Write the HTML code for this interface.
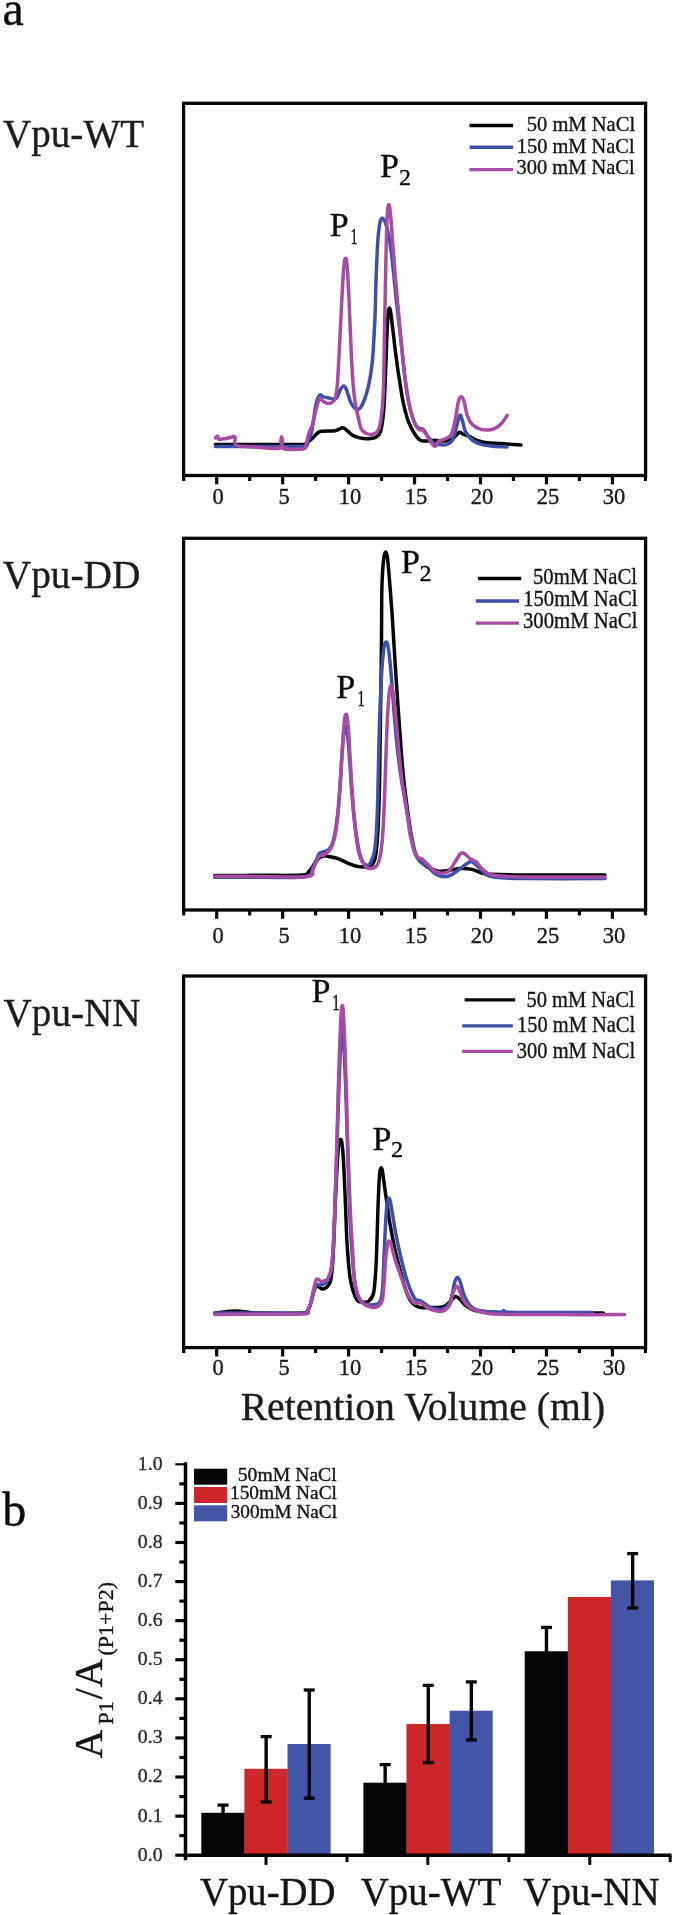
<!DOCTYPE html>
<html><head><meta charset="utf-8"><title>Figure</title>
<style>
html,body{margin:0;padding:0;background:#fff;}
body{width:675px;height:1915px;overflow:hidden;}
svg{display:block;font-family:"Liberation Serif", serif;will-change:transform;}
text{stroke-width:0.35px;stroke-linejoin:round;}
</style></head>
<body>
<svg width="675" height="1915" viewBox="0 0 675 1915">
<rect width="675" height="1915" fill="#fff"/>
<rect x="183.6" y="103.3" width="462.0" height="372.2" fill="none" stroke="#050505" stroke-width="3.3"/>
<line x1="183.72" y1="475.5" x2="183.72" y2="480.95" stroke="#050505" stroke-width="3.2"/>
<line x1="216.70" y1="475.5" x2="216.70" y2="484.35" stroke="#050505" stroke-width="3.2"/>
<line x1="249.67" y1="475.5" x2="249.67" y2="480.95" stroke="#050505" stroke-width="3.2"/>
<line x1="282.65" y1="475.5" x2="282.65" y2="484.35" stroke="#050505" stroke-width="3.2"/>
<line x1="315.62" y1="475.5" x2="315.62" y2="480.95" stroke="#050505" stroke-width="3.2"/>
<line x1="348.60" y1="475.5" x2="348.60" y2="484.35" stroke="#050505" stroke-width="3.2"/>
<line x1="381.57" y1="475.5" x2="381.57" y2="480.95" stroke="#050505" stroke-width="3.2"/>
<line x1="414.55" y1="475.5" x2="414.55" y2="484.35" stroke="#050505" stroke-width="3.2"/>
<line x1="447.52" y1="475.5" x2="447.52" y2="480.95" stroke="#050505" stroke-width="3.2"/>
<line x1="480.50" y1="475.5" x2="480.50" y2="484.35" stroke="#050505" stroke-width="3.2"/>
<line x1="513.47" y1="475.5" x2="513.47" y2="480.95" stroke="#050505" stroke-width="3.2"/>
<line x1="546.45" y1="475.5" x2="546.45" y2="484.35" stroke="#050505" stroke-width="3.2"/>
<line x1="579.42" y1="475.5" x2="579.42" y2="480.95" stroke="#050505" stroke-width="3.2"/>
<line x1="612.40" y1="475.5" x2="612.40" y2="484.35" stroke="#050505" stroke-width="3.2"/>
<line x1="645.38" y1="475.5" x2="645.38" y2="480.95" stroke="#050505" stroke-width="3.2"/>
<text x="218.20" y="504.0" font-size="22.5" text-anchor="middle" fill="#1a1a1a" stroke="#1a1a1a" >0</text>
<text x="284.15" y="504.0" font-size="22.5" text-anchor="middle" fill="#1a1a1a" stroke="#1a1a1a" >5</text>
<text x="350.10" y="504.0" font-size="22.5" text-anchor="middle" fill="#1a1a1a" stroke="#1a1a1a" >10</text>
<text x="416.05" y="504.0" font-size="22.5" text-anchor="middle" fill="#1a1a1a" stroke="#1a1a1a" >15</text>
<text x="482.00" y="504.0" font-size="22.5" text-anchor="middle" fill="#1a1a1a" stroke="#1a1a1a" >20</text>
<text x="547.95" y="504.0" font-size="22.5" text-anchor="middle" fill="#1a1a1a" stroke="#1a1a1a" >25</text>
<text x="613.90" y="504.0" font-size="22.5" text-anchor="middle" fill="#1a1a1a" stroke="#1a1a1a" >30</text>
<text x="3.00" y="147.0" font-size="40.5" fill="#1c1c1c" stroke="#1c1c1c" textLength="141.20" lengthAdjust="spacingAndGlyphs">Vpu-WT</text>
<rect x="183.6" y="538.3" width="462.0" height="371.70000000000005" fill="none" stroke="#050505" stroke-width="3.3"/>
<line x1="183.72" y1="910.0" x2="183.72" y2="915.45" stroke="#050505" stroke-width="3.2"/>
<line x1="216.70" y1="910.0" x2="216.70" y2="918.85" stroke="#050505" stroke-width="3.2"/>
<line x1="249.67" y1="910.0" x2="249.67" y2="915.45" stroke="#050505" stroke-width="3.2"/>
<line x1="282.65" y1="910.0" x2="282.65" y2="918.85" stroke="#050505" stroke-width="3.2"/>
<line x1="315.62" y1="910.0" x2="315.62" y2="915.45" stroke="#050505" stroke-width="3.2"/>
<line x1="348.60" y1="910.0" x2="348.60" y2="918.85" stroke="#050505" stroke-width="3.2"/>
<line x1="381.57" y1="910.0" x2="381.57" y2="915.45" stroke="#050505" stroke-width="3.2"/>
<line x1="414.55" y1="910.0" x2="414.55" y2="918.85" stroke="#050505" stroke-width="3.2"/>
<line x1="447.52" y1="910.0" x2="447.52" y2="915.45" stroke="#050505" stroke-width="3.2"/>
<line x1="480.50" y1="910.0" x2="480.50" y2="918.85" stroke="#050505" stroke-width="3.2"/>
<line x1="513.47" y1="910.0" x2="513.47" y2="915.45" stroke="#050505" stroke-width="3.2"/>
<line x1="546.45" y1="910.0" x2="546.45" y2="918.85" stroke="#050505" stroke-width="3.2"/>
<line x1="579.42" y1="910.0" x2="579.42" y2="915.45" stroke="#050505" stroke-width="3.2"/>
<line x1="612.40" y1="910.0" x2="612.40" y2="918.85" stroke="#050505" stroke-width="3.2"/>
<line x1="645.38" y1="910.0" x2="645.38" y2="915.45" stroke="#050505" stroke-width="3.2"/>
<text x="218.20" y="942.7" font-size="22.5" text-anchor="middle" fill="#1a1a1a" stroke="#1a1a1a" >0</text>
<text x="284.15" y="942.7" font-size="22.5" text-anchor="middle" fill="#1a1a1a" stroke="#1a1a1a" >5</text>
<text x="350.10" y="942.7" font-size="22.5" text-anchor="middle" fill="#1a1a1a" stroke="#1a1a1a" >10</text>
<text x="416.05" y="942.7" font-size="22.5" text-anchor="middle" fill="#1a1a1a" stroke="#1a1a1a" >15</text>
<text x="482.00" y="942.7" font-size="22.5" text-anchor="middle" fill="#1a1a1a" stroke="#1a1a1a" >20</text>
<text x="547.95" y="942.7" font-size="22.5" text-anchor="middle" fill="#1a1a1a" stroke="#1a1a1a" >25</text>
<text x="613.90" y="942.7" font-size="22.5" text-anchor="middle" fill="#1a1a1a" stroke="#1a1a1a" >30</text>
<text x="2.80" y="587.7" font-size="40.5" fill="#1c1c1c" stroke="#1c1c1c" textLength="137.58" lengthAdjust="spacingAndGlyphs">Vpu-DD</text>
<rect x="183.6" y="976.0" width="462.0" height="371.5999999999999" fill="none" stroke="#050505" stroke-width="3.3"/>
<line x1="183.72" y1="1347.6" x2="183.72" y2="1353.05" stroke="#050505" stroke-width="3.2"/>
<line x1="216.70" y1="1347.6" x2="216.70" y2="1356.45" stroke="#050505" stroke-width="3.2"/>
<line x1="249.67" y1="1347.6" x2="249.67" y2="1353.05" stroke="#050505" stroke-width="3.2"/>
<line x1="282.65" y1="1347.6" x2="282.65" y2="1356.45" stroke="#050505" stroke-width="3.2"/>
<line x1="315.62" y1="1347.6" x2="315.62" y2="1353.05" stroke="#050505" stroke-width="3.2"/>
<line x1="348.60" y1="1347.6" x2="348.60" y2="1356.45" stroke="#050505" stroke-width="3.2"/>
<line x1="381.57" y1="1347.6" x2="381.57" y2="1353.05" stroke="#050505" stroke-width="3.2"/>
<line x1="414.55" y1="1347.6" x2="414.55" y2="1356.45" stroke="#050505" stroke-width="3.2"/>
<line x1="447.52" y1="1347.6" x2="447.52" y2="1353.05" stroke="#050505" stroke-width="3.2"/>
<line x1="480.50" y1="1347.6" x2="480.50" y2="1356.45" stroke="#050505" stroke-width="3.2"/>
<line x1="513.47" y1="1347.6" x2="513.47" y2="1353.05" stroke="#050505" stroke-width="3.2"/>
<line x1="546.45" y1="1347.6" x2="546.45" y2="1356.45" stroke="#050505" stroke-width="3.2"/>
<line x1="579.42" y1="1347.6" x2="579.42" y2="1353.05" stroke="#050505" stroke-width="3.2"/>
<line x1="612.40" y1="1347.6" x2="612.40" y2="1356.45" stroke="#050505" stroke-width="3.2"/>
<line x1="645.38" y1="1347.6" x2="645.38" y2="1353.05" stroke="#050505" stroke-width="3.2"/>
<text x="218.20" y="1374.5" font-size="22.5" text-anchor="middle" fill="#1a1a1a" stroke="#1a1a1a" >0</text>
<text x="284.15" y="1374.5" font-size="22.5" text-anchor="middle" fill="#1a1a1a" stroke="#1a1a1a" >5</text>
<text x="350.10" y="1374.5" font-size="22.5" text-anchor="middle" fill="#1a1a1a" stroke="#1a1a1a" >10</text>
<text x="416.05" y="1374.5" font-size="22.5" text-anchor="middle" fill="#1a1a1a" stroke="#1a1a1a" >15</text>
<text x="482.00" y="1374.5" font-size="22.5" text-anchor="middle" fill="#1a1a1a" stroke="#1a1a1a" >20</text>
<text x="547.95" y="1374.5" font-size="22.5" text-anchor="middle" fill="#1a1a1a" stroke="#1a1a1a" >25</text>
<text x="613.90" y="1374.5" font-size="22.5" text-anchor="middle" fill="#1a1a1a" stroke="#1a1a1a" >30</text>
<text x="3.60" y="1025.9" font-size="40.5" fill="#1c1c1c" stroke="#1c1c1c" textLength="137.01" lengthAdjust="spacingAndGlyphs">Vpu-NN</text>
<line x1="469.5" y1="125.5" x2="513.1" y2="125.5" stroke="#050505" stroke-width="3.4"/>
<line x1="469.5" y1="147.3" x2="513.1" y2="147.3" stroke="#3d4fa8" stroke-width="3.4"/>
<line x1="469.5" y1="169.6" x2="513.1" y2="169.6" stroke="#a64ca2" stroke-width="3.4"/>
<text x="526.72" y="131.3" font-size="21" fill="#141414" stroke="#141414" textLength="108.40" lengthAdjust="spacingAndGlyphs">50 mM NaCl</text>
<text x="516.76" y="152.8" font-size="21" fill="#141414" stroke="#141414" textLength="117.88" lengthAdjust="spacingAndGlyphs">150 mM NaCl</text>
<text x="516.53" y="174.3" font-size="21" fill="#141414" stroke="#141414" textLength="118.11" lengthAdjust="spacingAndGlyphs">300 mM NaCl</text>
<line x1="477.9" y1="578.5" x2="521.3" y2="578.5" stroke="#050505" stroke-width="3.4"/>
<line x1="475.8" y1="601.0" x2="519.0" y2="601.0" stroke="#3d4fa8" stroke-width="3.4"/>
<line x1="475.8" y1="623.1" x2="519.0" y2="623.1" stroke="#a64ca2" stroke-width="3.4"/>
<text x="533.00" y="584.3" font-size="23" fill="#141414" stroke="#141414" textLength="103.98" lengthAdjust="spacingAndGlyphs">50mM NaCl</text>
<text x="523.20" y="606.4" font-size="23" fill="#141414" stroke="#141414" textLength="114.22" lengthAdjust="spacingAndGlyphs">150mM NaCl</text>
<text x="523.00" y="628.3" font-size="23" fill="#141414" stroke="#141414" textLength="114.43" lengthAdjust="spacingAndGlyphs">300mM NaCl</text>
<line x1="464.6" y1="999.9" x2="515.2" y2="999.9" stroke="#050505" stroke-width="3.4"/>
<line x1="462.2" y1="1025.9" x2="512.8" y2="1025.9" stroke="#3d4fa8" stroke-width="3.4"/>
<line x1="462.2" y1="1051.4" x2="512.8" y2="1051.4" stroke="#a64ca2" stroke-width="3.4"/>
<text x="526.42" y="1006.5" font-size="23.2" fill="#141414" stroke="#141414" textLength="108.23" lengthAdjust="spacingAndGlyphs">50 mM NaCl</text>
<text x="516.94" y="1032.1" font-size="23.2" fill="#141414" stroke="#141414" textLength="118.23" lengthAdjust="spacingAndGlyphs">150 mM NaCl</text>
<text x="516.82" y="1057.8" font-size="23.2" fill="#141414" stroke="#141414" textLength="118.35" lengthAdjust="spacingAndGlyphs">300 mM NaCl</text>
<text x="329.70" y="235.5" font-size="34" fill="#0d0d0d" stroke="#0d0d0d">P</text>
<text x="350.62" y="243.5" font-size="22.5" fill="#0d0d0d" stroke="#0d0d0d" textLength="7.17" lengthAdjust="spacingAndGlyphs">1</text>
<text x="380.10" y="177.0" font-size="34" fill="#0d0d0d" stroke="#0d0d0d">P</text>
<text x="398.93" y="184.8" font-size="22.5" fill="#0d0d0d" stroke="#0d0d0d" textLength="12.00" lengthAdjust="spacingAndGlyphs">2</text>
<text x="336.20" y="698.3" font-size="34" fill="#0d0d0d" stroke="#0d0d0d">P</text>
<text x="357.40" y="706.1" font-size="22.5" fill="#0d0d0d" stroke="#0d0d0d" textLength="7.31" lengthAdjust="spacingAndGlyphs">1</text>
<text x="401.00" y="572.8" font-size="34" fill="#0d0d0d" stroke="#0d0d0d">P</text>
<text x="419.53" y="580.9" font-size="22.5" fill="#0d0d0d" stroke="#0d0d0d" textLength="12.00" lengthAdjust="spacingAndGlyphs">2</text>
<text x="311.40" y="1001.8" font-size="34" fill="#0d0d0d" stroke="#0d0d0d">P</text>
<text x="332.10" y="1009.8" font-size="22.5" fill="#0d0d0d" stroke="#0d0d0d" textLength="7.88" lengthAdjust="spacingAndGlyphs">1</text>
<text x="372.50" y="1149.6" font-size="34" fill="#0d0d0d" stroke="#0d0d0d">P</text>
<text x="390.92" y="1157.0" font-size="22.5" fill="#0d0d0d" stroke="#0d0d0d" textLength="12.12" lengthAdjust="spacingAndGlyphs">2</text>
<text x="2.60" y="25.3" font-size="48" fill="#0a0a0a" stroke="#0a0a0a">a</text>
<text x="2.20" y="1526.0" font-size="48" fill="#0a0a0a" stroke="#0a0a0a">b</text>
<text x="240.63" y="1419.5" font-size="41" fill="#1c1c1c" stroke="#1c1c1c" textLength="364.60" lengthAdjust="spacingAndGlyphs">Retention Volume (ml)</text>
<path d="M215.40,444.40 C222.83,444.40 245.43,444.40 260.00,444.40 C274.57,444.40 295.05,444.60 302.80,444.40 C310.55,444.20 305.07,444.05 306.50,443.20 C307.93,442.35 309.40,441.12 311.40,439.30 C313.40,437.48 316.52,433.65 318.50,432.30 C320.48,430.95 320.93,431.42 323.30,431.20 C325.67,430.98 330.35,431.20 332.70,431.00 C335.05,430.80 335.75,430.53 337.40,430.00 C339.05,429.47 341.12,427.83 342.60,427.80 C344.08,427.77 344.70,428.60 346.30,429.80 C347.90,431.00 349.98,433.65 352.20,435.00 C354.42,436.35 356.88,437.28 359.60,437.90 C362.32,438.52 365.78,438.82 368.50,438.70 C371.22,438.58 373.92,438.32 375.90,437.20 C377.88,436.08 379.17,435.70 380.40,432.00 C381.63,428.30 382.60,421.17 383.30,415.00 C384.00,408.83 384.22,402.17 384.60,395.00 C384.98,387.83 385.27,380.33 385.60,372.00 C385.93,363.67 386.23,354.00 386.60,345.00 C386.97,336.00 387.40,324.03 387.80,318.00 C388.20,311.97 388.57,310.05 389.00,308.80 C389.43,307.55 389.85,307.80 390.40,310.50 C390.95,313.20 391.53,318.75 392.30,325.00 C393.07,331.25 394.12,340.83 395.00,348.00 C395.88,355.17 396.80,362.33 397.60,368.00 C398.40,373.67 398.97,376.73 399.80,382.00 C400.63,387.27 401.65,394.60 402.60,399.60 C403.55,404.60 404.52,408.28 405.50,412.00 C406.48,415.72 407.02,418.32 408.50,421.90 C409.98,425.48 412.42,430.43 414.40,433.50 C416.38,436.57 418.38,439.05 420.40,440.30 C422.42,441.55 424.12,441.00 426.50,441.00 C428.88,441.00 431.72,440.30 434.70,440.30 C437.68,440.30 441.42,441.27 444.40,441.00 C447.38,440.73 450.15,440.13 452.60,438.70 C455.05,437.27 457.47,433.22 459.10,432.40 C460.73,431.58 460.77,433.17 462.40,433.80 C464.03,434.43 466.47,435.12 468.90,436.20 C471.33,437.28 474.28,439.25 477.00,440.30 C479.72,441.35 481.12,441.95 485.20,442.50 C489.28,443.05 495.53,443.18 501.50,443.60 C507.47,444.02 517.75,444.77 521.00,445.00" fill="none" stroke="#050505" stroke-width="3.5" stroke-linejoin="round" stroke-linecap="round"/>
<path d="M215.40,446.40 C222.83,446.40 245.48,446.40 260.00,446.40 C274.52,446.40 294.72,446.88 302.50,446.40 C310.28,445.92 305.22,445.82 306.70,443.50 C308.18,441.18 309.83,439.08 311.40,432.50 C312.97,425.92 314.72,410.22 316.10,404.00 C317.48,397.78 318.50,396.40 319.70,395.20 C320.90,394.00 321.92,396.37 323.30,396.80 C324.68,397.23 325.90,397.50 328.00,397.80 C330.10,398.10 333.83,399.98 335.90,398.60 C337.97,397.22 339.12,391.60 340.40,389.50 C341.68,387.40 342.62,386.03 343.60,386.00 C344.58,385.97 345.12,386.57 346.30,389.30 C347.48,392.03 349.33,399.28 350.70,402.40 C352.07,405.52 353.27,406.83 354.50,408.00 C355.73,409.17 357.05,409.53 358.10,409.40 C359.15,409.27 359.80,408.68 360.80,407.20 C361.80,405.72 362.93,403.53 364.10,400.50 C365.27,397.47 366.70,393.42 367.80,389.00 C368.90,384.58 369.90,379.00 370.70,374.00 C371.50,369.00 372.12,363.93 372.60,359.00 C373.08,354.07 373.30,349.30 373.60,344.40 C373.90,339.50 374.15,334.53 374.40,329.60 C374.65,324.67 374.92,319.73 375.10,314.80 C375.28,309.87 375.37,305.13 375.50,300.00 C375.63,294.87 375.72,289.67 375.90,284.00 C376.08,278.33 376.35,272.00 376.60,266.00 C376.85,260.00 377.07,253.67 377.40,248.00 C377.73,242.33 378.13,236.42 378.60,232.00 C379.07,227.58 379.63,223.83 380.20,221.50 C380.77,219.17 381.37,218.28 382.00,218.00 C382.63,217.72 383.25,218.47 384.00,219.80 C384.75,221.13 385.53,222.30 386.50,226.00 C387.47,229.70 388.85,236.33 389.80,242.00 C390.75,247.67 391.45,253.67 392.20,260.00 C392.95,266.33 393.62,273.33 394.30,280.00 C394.98,286.67 395.48,292.50 396.30,300.00 C397.12,307.50 398.22,316.33 399.20,325.00 C400.18,333.67 401.23,343.17 402.20,352.00 C403.17,360.83 404.03,370.33 405.00,378.00 C405.97,385.67 406.92,392.00 408.00,398.00 C409.08,404.00 410.25,409.58 411.50,414.00 C412.75,418.42 414.17,422.08 415.50,424.50 C416.83,426.92 418.20,427.67 419.50,428.50 C420.80,429.33 421.87,428.17 423.30,429.50 C424.73,430.83 426.48,434.28 428.10,436.50 C429.72,438.72 431.37,441.45 433.00,442.80 C434.63,444.15 435.72,444.30 437.90,444.60 C440.08,444.90 443.65,445.37 446.10,444.60 C448.55,443.83 450.83,443.10 452.60,440.00 C454.37,436.90 455.48,430.13 456.70,426.00 C457.92,421.87 458.95,416.08 459.90,415.20 C460.85,414.32 461.45,417.93 462.40,420.70 C463.35,423.47 463.98,428.58 465.60,431.80 C467.22,435.02 469.38,437.87 472.10,440.00 C474.82,442.13 478.37,443.57 481.90,444.60 C485.43,445.63 489.12,445.80 493.30,446.20 C497.48,446.60 504.72,446.87 507.00,447.00" fill="none" stroke="#3d4fa8" stroke-width="3.5" stroke-linejoin="round" stroke-linecap="round"/>
<path d="M215.60,438.00 C215.92,437.67 216.93,435.75 217.50,436.00 C218.07,436.25 218.25,439.00 219.00,439.50 C219.75,440.00 220.83,439.17 222.00,439.00 C223.17,438.83 224.83,438.70 226.00,438.50 C227.17,438.30 228.00,438.05 229.00,437.80 C230.00,437.55 230.98,437.08 232.00,437.00 C233.02,436.92 234.40,435.92 235.10,437.30 C235.80,438.68 233.07,443.70 236.20,445.30 C239.33,446.90 246.68,446.40 253.90,446.90 C261.12,447.40 275.02,449.28 279.50,448.30 C283.98,447.32 280.45,442.92 280.80,441.00 C281.15,439.08 281.33,436.80 281.60,436.80 C281.87,436.80 282.08,439.05 282.40,441.00 C282.72,442.95 280.10,447.17 283.50,448.50 C286.90,449.83 299.08,449.42 302.80,449.00 C306.52,448.58 304.98,447.92 305.80,446.00 C306.62,444.08 306.92,440.33 307.70,437.50 C308.48,434.67 309.68,431.17 310.50,429.00 C311.32,426.83 311.67,427.83 312.60,424.50 C313.53,421.17 314.92,413.28 316.10,409.00 C317.28,404.72 318.50,400.05 319.70,398.80 C320.90,397.55 321.92,400.72 323.30,401.50 C324.68,402.28 326.43,403.42 328.00,403.50 C329.57,403.58 331.45,403.08 332.70,402.00 C333.95,400.92 334.73,399.83 335.50,397.00 C336.27,394.17 336.75,391.17 337.30,385.00 C337.85,378.83 338.30,369.17 338.80,360.00 C339.30,350.83 339.80,340.00 340.30,330.00 C340.80,320.00 341.32,309.17 341.80,300.00 C342.28,290.83 342.75,281.50 343.20,275.00 C343.65,268.50 344.12,263.80 344.50,261.00 C344.88,258.20 345.15,258.20 345.50,258.20 C345.85,258.20 346.22,258.20 346.60,261.00 C346.98,263.80 347.40,268.50 347.80,275.00 C348.20,281.50 348.58,290.83 349.00,300.00 C349.42,309.17 349.87,320.00 350.30,330.00 C350.73,340.00 351.12,350.83 351.60,360.00 C352.08,369.17 352.60,377.83 353.20,385.00 C353.80,392.17 354.48,398.17 355.20,403.00 C355.92,407.83 356.52,409.75 357.50,414.00 C358.48,418.25 359.75,425.33 361.10,428.50 C362.45,431.67 363.87,432.00 365.60,433.00 C367.33,434.00 369.53,434.75 371.50,434.50 C373.47,434.25 375.88,433.58 377.40,431.50 C378.92,429.42 379.73,426.58 380.60,422.00 C381.47,417.42 382.08,411.00 382.60,404.00 C383.12,397.00 383.40,390.67 383.70,380.00 C384.00,369.33 384.15,354.17 384.40,340.00 C384.65,325.83 384.93,309.17 385.20,295.00 C385.47,280.83 385.73,266.67 386.00,255.00 C386.27,243.33 386.53,232.50 386.80,225.00 C387.07,217.50 387.32,213.33 387.60,210.00 C387.88,206.67 388.17,205.50 388.50,205.00 C388.83,204.50 389.18,204.50 389.60,207.00 C390.02,209.50 390.50,214.17 391.00,220.00 C391.50,225.83 392.03,234.50 392.60,242.00 C393.17,249.50 393.78,257.33 394.40,265.00 C395.02,272.67 395.62,280.17 396.30,288.00 C396.98,295.83 397.72,303.33 398.50,312.00 C399.28,320.67 400.17,331.17 401.00,340.00 C401.83,348.83 402.67,357.33 403.50,365.00 C404.33,372.67 405.08,379.50 406.00,386.00 C406.92,392.50 407.92,398.83 409.00,404.00 C410.08,409.17 411.33,413.33 412.50,417.00 C413.67,420.67 414.83,423.87 416.00,426.00 C417.17,428.13 418.40,429.13 419.50,429.80 C420.60,430.47 421.47,429.22 422.60,430.00 C423.73,430.78 425.10,432.78 426.30,434.50 C427.50,436.22 428.60,438.47 429.80,440.30 C431.00,442.13 432.50,444.55 433.50,445.50 C434.50,446.45 434.97,446.67 435.80,446.00 C436.63,445.33 437.07,442.63 438.50,441.50 C439.93,440.37 442.32,440.28 444.40,439.20 C446.48,438.12 449.23,438.03 451.00,435.00 C452.77,431.97 453.78,426.50 455.00,421.00 C456.22,415.50 457.27,406.03 458.30,402.00 C459.33,397.97 460.25,396.93 461.20,396.80 C462.15,396.67 462.98,398.08 464.00,401.20 C465.02,404.32 465.95,411.65 467.30,415.50 C468.65,419.35 469.93,422.02 472.10,424.30 C474.27,426.58 477.58,428.25 480.30,429.20 C483.02,430.15 485.95,430.13 488.40,430.00 C490.85,429.87 492.82,429.48 495.00,428.40 C497.18,427.32 499.47,425.65 501.50,423.50 C503.53,421.35 506.25,416.83 507.20,415.50" fill="none" stroke="#a64ca2" stroke-width="3.5" stroke-linejoin="round" stroke-linecap="round"/>
<path d="M214.60,875.50 C222.17,875.47 245.50,875.38 260.00,875.30 C274.50,875.22 293.38,875.72 301.60,875.00 C309.82,874.28 306.73,873.50 309.30,871.00 C311.87,868.50 314.75,862.50 317.00,860.00 C319.25,857.50 320.55,856.53 322.80,856.00 C325.05,855.47 327.93,856.37 330.50,856.80 C333.07,857.23 335.32,857.53 338.20,858.60 C341.08,859.67 344.92,861.97 347.80,863.20 C350.68,864.43 352.93,865.37 355.50,866.00 C358.07,866.63 360.63,867.03 363.20,867.00 C365.77,866.97 368.90,867.30 370.90,865.80 C372.90,864.30 374.13,862.30 375.20,858.00 C376.27,853.70 376.73,847.17 377.30,840.00 C377.87,832.83 378.25,823.33 378.60,815.00 C378.95,806.67 379.17,800.83 379.40,790.00 C379.63,779.17 379.83,761.67 380.00,750.00 C380.17,738.33 380.23,731.67 380.40,720.00 C380.57,708.33 380.82,693.33 381.00,680.00 C381.18,666.67 381.38,653.33 381.50,640.00 C381.62,626.67 381.60,609.75 381.70,600.00 C381.80,590.25 381.87,587.42 382.10,581.50 C382.33,575.58 382.75,568.83 383.10,564.50 C383.45,560.17 383.77,557.58 384.20,555.50 C384.63,553.42 385.22,552.00 385.70,552.00 C386.18,552.00 386.70,553.50 387.10,555.50 C387.50,557.50 387.68,559.67 388.10,564.00 C388.52,568.33 389.12,575.62 389.60,581.50 C390.08,587.38 390.55,593.38 391.00,599.30 C391.45,605.22 391.80,609.38 392.30,617.00 C392.80,624.62 393.35,634.50 394.00,645.00 C394.65,655.50 395.37,667.50 396.20,680.00 C397.03,692.50 398.12,707.50 399.00,720.00 C399.88,732.50 400.62,744.17 401.50,755.00 C402.38,765.83 403.30,775.83 404.30,785.00 C405.30,794.17 406.38,801.83 407.50,810.00 C408.62,818.17 409.67,826.75 411.00,834.00 C412.33,841.25 413.83,848.92 415.50,853.50 C417.17,858.08 418.95,859.22 421.00,861.50 C423.05,863.78 425.07,865.62 427.80,867.20 C430.53,868.78 433.88,870.48 437.40,871.00 C440.92,871.52 445.05,870.70 448.90,870.30 C452.75,869.90 456.63,868.75 460.50,868.60 C464.37,868.45 468.57,868.67 472.10,869.40 C475.63,870.13 478.52,872.20 481.70,873.00 C484.88,873.80 483.98,873.87 491.20,874.20 C498.42,874.53 506.05,874.87 525.00,875.00 C543.95,875.13 591.58,875.00 604.90,875.00" fill="none" stroke="#050505" stroke-width="3.5" stroke-linejoin="round" stroke-linecap="round"/>
<path d="M214.60,877.30 C222.17,877.28 244.87,877.28 260.00,877.20 C275.13,877.12 296.55,878.42 305.40,876.80 C314.25,875.18 310.85,871.30 313.10,867.50 C315.35,863.70 317.28,856.58 318.90,854.00 C320.52,851.42 321.20,852.70 322.80,852.00 C324.40,851.30 326.88,851.30 328.50,849.80 C330.12,848.30 331.33,846.30 332.50,843.00 C333.67,839.70 334.58,835.17 335.50,830.00 C336.42,824.83 337.28,818.67 338.00,812.00 C338.72,805.33 339.22,798.33 339.80,790.00 C340.38,781.67 340.92,770.67 341.50,762.00 C342.08,753.33 342.72,743.83 343.30,738.00 C343.88,732.17 344.47,728.67 345.00,727.00 C345.53,725.33 345.97,725.50 346.50,728.00 C347.03,730.50 347.62,735.83 348.20,742.00 C348.78,748.17 349.40,756.67 350.00,765.00 C350.60,773.33 351.13,783.67 351.80,792.00 C352.47,800.33 353.22,807.67 354.00,815.00 C354.78,822.33 355.60,829.75 356.50,836.00 C357.40,842.25 358.43,848.33 359.40,852.50 C360.37,856.67 361.35,859.00 362.30,861.00 C363.25,863.00 364.07,863.83 365.10,864.50 C366.13,865.17 367.45,865.58 368.50,865.00 C369.55,864.42 370.40,863.33 371.40,861.00 C372.40,858.67 373.65,856.17 374.50,851.00 C375.35,845.83 375.97,838.50 376.50,830.00 C377.03,821.50 377.35,811.67 377.70,800.00 C378.05,788.33 378.28,773.33 378.60,760.00 C378.92,746.67 379.20,732.50 379.60,720.00 C380.00,707.50 380.50,695.00 381.00,685.00 C381.50,675.00 382.05,666.50 382.60,660.00 C383.15,653.50 383.70,649.00 384.30,646.00 C384.90,643.00 385.58,642.00 386.20,642.00 C386.82,642.00 387.37,642.67 388.00,646.00 C388.63,649.33 389.33,655.50 390.00,662.00 C390.67,668.50 391.28,676.17 392.00,685.00 C392.72,693.83 393.47,705.00 394.30,715.00 C395.13,725.00 396.05,735.83 397.00,745.00 C397.95,754.17 398.88,762.00 400.00,770.00 C401.12,778.00 402.45,785.50 403.70,793.00 C404.95,800.50 406.20,807.50 407.50,815.00 C408.80,822.50 410.22,831.58 411.50,838.00 C412.78,844.42 413.78,849.58 415.20,853.50 C416.62,857.42 417.90,859.33 420.00,861.50 C422.10,863.67 425.22,864.42 427.80,866.50 C430.38,868.58 432.62,872.28 435.50,874.00 C438.38,875.72 442.22,876.80 445.10,876.80 C447.98,876.80 450.23,875.40 452.80,874.00 C455.37,872.60 457.93,870.27 460.50,868.40 C463.07,866.53 466.27,863.90 468.20,862.80 C470.13,861.70 470.48,861.18 472.10,861.80 C473.72,862.42 475.65,864.43 477.90,866.50 C480.15,868.57 482.72,872.42 485.60,874.20 C488.48,875.98 488.63,876.47 495.20,877.20 C501.77,877.93 506.72,878.37 525.00,878.60 C543.28,878.83 591.58,878.60 604.90,878.60" fill="none" stroke="#3d4fa8" stroke-width="3.5" stroke-linejoin="round" stroke-linecap="round"/>
<path d="M214.60,876.30 C222.17,876.32 244.55,876.37 260.00,876.40 C275.45,876.43 298.45,877.73 307.30,876.50 C316.15,875.27 311.17,872.28 313.10,869.00 C315.03,865.72 316.97,859.22 318.90,856.80 C320.83,854.38 322.77,855.80 324.70,854.50 C326.63,853.20 328.95,851.42 330.50,849.00 C332.05,846.58 332.98,843.83 334.00,840.00 C335.02,836.17 335.83,831.83 336.60,826.00 C337.37,820.17 337.98,812.33 338.60,805.00 C339.22,797.67 339.73,790.33 340.30,782.00 C340.87,773.67 341.45,763.67 342.00,755.00 C342.55,746.33 343.10,736.42 343.60,730.00 C344.10,723.58 344.60,719.13 345.00,716.50 C345.40,713.87 345.65,714.20 346.00,714.20 C346.35,714.20 346.68,713.87 347.10,716.50 C347.52,719.13 348.02,723.58 348.50,730.00 C348.98,736.42 349.48,746.33 350.00,755.00 C350.52,763.67 351.05,773.17 351.60,782.00 C352.15,790.83 352.65,799.67 353.30,808.00 C353.95,816.33 354.48,824.17 355.50,832.00 C356.52,839.83 357.80,849.37 359.40,855.00 C361.00,860.63 363.33,863.55 365.10,865.80 C366.87,868.05 368.07,868.50 370.00,868.50 C371.93,868.50 375.03,867.72 376.70,865.80 C378.37,863.88 379.07,861.30 380.00,857.00 C380.93,852.70 381.67,847.00 382.30,840.00 C382.93,833.00 383.38,823.33 383.80,815.00 C384.22,806.67 384.47,799.17 384.80,790.00 C385.13,780.83 385.45,770.00 385.80,760.00 C386.15,750.00 386.50,739.17 386.90,730.00 C387.30,720.83 387.75,711.67 388.20,705.00 C388.65,698.33 389.12,693.30 389.60,690.00 C390.08,686.70 390.60,685.20 391.10,685.20 C391.60,685.20 392.07,687.03 392.60,690.00 C393.13,692.97 393.70,697.67 394.30,703.00 C394.90,708.33 395.53,715.00 396.20,722.00 C396.87,729.00 397.58,737.33 398.30,745.00 C399.02,752.67 399.77,761.33 400.50,768.00 C401.23,774.67 401.68,778.17 402.70,785.00 C403.72,791.83 405.32,800.50 406.60,809.00 C407.88,817.50 408.80,828.23 410.40,836.00 C412.00,843.77 414.27,851.77 416.20,855.60 C418.13,859.43 420.07,857.52 422.00,859.00 C423.93,860.48 425.88,862.63 427.80,864.50 C429.72,866.37 431.27,868.75 433.50,870.20 C435.73,871.65 438.63,873.07 441.20,873.20 C443.77,873.33 446.65,872.77 448.90,871.00 C451.15,869.23 452.77,865.50 454.70,862.60 C456.63,859.70 458.88,855.10 460.50,853.60 C462.12,852.10 462.80,852.73 464.40,853.60 C466.00,854.47 468.18,857.47 470.10,858.80 C472.02,860.13 473.97,860.03 475.90,861.60 C477.83,863.17 479.45,866.13 481.70,868.20 C483.95,870.27 486.18,872.70 489.40,874.00 C492.62,875.30 495.07,875.50 501.00,876.00 C506.93,876.50 507.68,876.83 525.00,877.00 C542.32,877.17 591.58,877.00 604.90,877.00" fill="none" stroke="#a64ca2" stroke-width="3.5" stroke-linejoin="round" stroke-linecap="round"/>
<path d="M214.80,1313.30 C216.00,1313.12 219.47,1312.53 222.00,1312.20 C224.53,1311.87 227.00,1311.47 230.00,1311.30 C233.00,1311.13 237.00,1311.03 240.00,1311.20 C243.00,1311.37 245.00,1312.00 248.00,1312.30 C251.00,1312.60 248.75,1312.88 258.00,1313.00 C267.25,1313.12 295.22,1313.42 303.50,1313.00 C311.78,1312.58 306.62,1311.75 307.70,1310.50 C308.78,1309.25 309.30,1307.42 310.00,1305.50 C310.70,1303.58 311.27,1301.42 311.90,1299.00 C312.53,1296.58 313.02,1293.17 313.80,1291.00 C314.58,1288.83 315.65,1286.58 316.60,1286.00 C317.55,1285.42 318.52,1287.00 319.50,1287.50 C320.48,1288.00 321.25,1289.08 322.50,1289.00 C323.75,1288.92 325.67,1288.33 327.00,1287.00 C328.33,1285.67 329.60,1284.50 330.50,1281.00 C331.40,1277.50 331.85,1272.50 332.40,1266.00 C332.95,1259.50 333.33,1252.17 333.80,1242.00 C334.27,1231.83 334.73,1216.17 335.20,1205.00 C335.67,1193.83 336.13,1183.83 336.60,1175.00 C337.07,1166.17 337.55,1157.67 338.00,1152.00 C338.45,1146.33 338.90,1143.08 339.30,1141.00 C339.70,1138.92 340.02,1139.50 340.40,1139.50 C340.78,1139.50 341.18,1138.92 341.60,1141.00 C342.02,1143.08 342.47,1146.33 342.90,1152.00 C343.33,1157.67 343.77,1166.17 344.20,1175.00 C344.63,1183.83 345.03,1193.83 345.50,1205.00 C345.97,1216.17 346.22,1229.75 347.00,1242.00 C347.78,1254.25 348.63,1269.00 350.20,1278.50 C351.77,1288.00 354.33,1295.08 356.40,1299.00 C358.47,1302.92 360.53,1301.67 362.60,1302.00 C364.67,1302.33 366.97,1302.50 368.80,1301.00 C370.63,1299.50 372.43,1298.17 373.60,1293.00 C374.77,1287.83 375.23,1278.83 375.80,1270.00 C376.37,1261.17 376.65,1250.00 377.00,1240.00 C377.35,1230.00 377.58,1219.17 377.90,1210.00 C378.22,1200.83 378.55,1191.50 378.90,1185.00 C379.25,1178.50 379.65,1173.87 380.00,1171.00 C380.35,1168.13 380.63,1167.97 381.00,1167.80 C381.37,1167.63 381.75,1167.97 382.20,1170.00 C382.65,1172.03 383.18,1176.33 383.70,1180.00 C384.22,1183.67 384.75,1188.17 385.30,1192.00 C385.85,1195.83 386.38,1198.67 387.00,1203.00 C387.62,1207.33 388.25,1213.17 389.00,1218.00 C389.75,1222.83 390.50,1226.67 391.50,1232.00 C392.50,1237.33 393.83,1244.67 395.00,1250.00 C396.17,1255.33 397.42,1259.83 398.50,1264.00 C399.58,1268.17 400.50,1271.33 401.50,1275.00 C402.50,1278.67 403.50,1282.75 404.50,1286.00 C405.50,1289.25 406.40,1291.92 407.50,1294.50 C408.60,1297.08 409.75,1299.65 411.10,1301.50 C412.45,1303.35 413.97,1304.60 415.60,1305.60 C417.23,1306.60 417.95,1307.17 420.90,1307.50 C423.85,1307.83 429.48,1307.73 433.30,1307.60 C437.12,1307.47 440.87,1307.82 443.80,1306.70 C446.73,1305.58 448.98,1302.58 450.90,1300.90 C452.82,1299.22 453.82,1296.90 455.30,1296.60 C456.78,1296.30 458.17,1297.70 459.80,1299.10 C461.43,1300.50 462.73,1303.15 465.10,1305.00 C467.47,1306.85 469.85,1309.03 474.00,1310.20 C478.15,1311.37 480.67,1311.57 490.00,1312.00 C499.33,1312.43 511.12,1312.63 530.00,1312.80 C548.88,1312.97 591.08,1312.97 603.30,1313.00" fill="none" stroke="#050505" stroke-width="3.5" stroke-linejoin="round" stroke-linecap="round"/>
<path d="M214.80,1313.00 C222.33,1313.00 245.22,1313.00 260.00,1313.00 C274.78,1313.00 295.55,1313.42 303.50,1313.00 C311.45,1312.58 306.62,1311.75 307.70,1310.50 C308.78,1309.25 309.30,1307.42 310.00,1305.50 C310.70,1303.58 311.25,1301.42 311.90,1299.00 C312.55,1296.58 313.08,1293.42 313.90,1291.00 C314.72,1288.58 315.78,1285.50 316.80,1284.50 C317.82,1283.50 318.80,1285.08 320.00,1285.00 C321.20,1284.92 322.67,1284.83 324.00,1284.00 C325.33,1283.17 326.75,1282.58 328.00,1280.00 C329.25,1277.42 330.60,1274.33 331.50,1268.50 C332.40,1262.67 332.85,1254.75 333.40,1245.00 C333.95,1235.25 334.33,1222.50 334.80,1210.00 C335.27,1197.50 335.75,1183.33 336.20,1170.00 C336.65,1156.67 337.07,1143.33 337.50,1130.00 C337.93,1116.67 338.38,1101.67 338.80,1090.00 C339.22,1078.33 339.60,1068.83 340.00,1060.00 C340.40,1051.17 340.82,1042.33 341.20,1037.00 C341.58,1031.67 341.93,1028.00 342.30,1028.00 C342.67,1028.00 343.02,1031.67 343.40,1037.00 C343.78,1042.33 344.20,1051.17 344.60,1060.00 C345.00,1068.83 345.40,1078.33 345.80,1090.00 C346.20,1101.67 346.58,1116.67 347.00,1130.00 C347.42,1143.33 347.87,1156.67 348.30,1170.00 C348.73,1183.33 349.10,1198.17 349.60,1210.00 C350.10,1221.83 350.52,1229.67 351.30,1241.00 C352.08,1252.33 353.10,1268.67 354.30,1278.00 C355.50,1287.33 356.77,1292.67 358.50,1297.00 C360.23,1301.33 362.28,1302.70 364.70,1304.00 C367.12,1305.30 370.70,1304.88 373.00,1304.80 C375.30,1304.72 377.13,1304.55 378.50,1303.50 C379.87,1302.45 380.48,1301.58 381.20,1298.50 C381.92,1295.42 382.37,1291.08 382.80,1285.00 C383.23,1278.92 383.47,1269.50 383.80,1262.00 C384.13,1254.50 384.47,1247.00 384.80,1240.00 C385.13,1233.00 385.43,1226.00 385.80,1220.00 C386.17,1214.00 386.55,1207.58 387.00,1204.00 C387.45,1200.42 388.00,1199.17 388.50,1198.50 C389.00,1197.83 389.45,1198.08 390.00,1200.00 C390.55,1201.92 391.22,1206.67 391.80,1210.00 C392.38,1213.33 392.88,1216.33 393.50,1220.00 C394.12,1223.67 394.48,1226.67 395.50,1232.00 C396.52,1237.33 398.33,1246.25 399.60,1252.00 C400.87,1257.75 401.92,1261.92 403.10,1266.50 C404.28,1271.08 405.37,1275.33 406.70,1279.50 C408.03,1283.67 409.62,1288.17 411.10,1291.50 C412.58,1294.83 414.12,1297.98 415.60,1299.50 C417.08,1301.02 418.53,1299.97 420.00,1300.60 C421.47,1301.23 422.92,1302.27 424.40,1303.30 C425.88,1304.33 427.45,1305.95 428.90,1306.80 C430.35,1307.65 430.92,1307.98 433.10,1308.40 C435.28,1308.82 439.33,1310.03 442.00,1309.30 C444.67,1308.57 447.38,1306.55 449.10,1304.00 C450.82,1301.45 451.40,1297.50 452.30,1294.00 C453.20,1290.50 453.70,1285.73 454.50,1283.00 C455.30,1280.27 456.27,1278.10 457.10,1277.60 C457.93,1277.10 458.77,1278.60 459.50,1280.00 C460.23,1281.40 460.72,1283.43 461.50,1286.00 C462.28,1288.57 462.72,1292.10 464.20,1295.40 C465.68,1298.70 468.17,1303.33 470.40,1305.80 C472.63,1308.27 474.33,1309.20 477.60,1310.20 C480.87,1311.20 485.97,1311.45 490.00,1311.80 C494.03,1312.15 499.53,1312.53 501.80,1312.30 C504.07,1312.07 503.00,1310.40 503.60,1310.40 C504.20,1310.40 501.00,1311.93 505.40,1312.30 C509.80,1312.67 515.45,1312.55 530.00,1312.60 C544.55,1312.65 582.25,1312.60 592.70,1312.60" fill="none" stroke="#3d4fa8" stroke-width="3.5" stroke-linejoin="round" stroke-linecap="round"/>
<path d="M214.80,1314.40 C222.33,1314.37 245.22,1314.27 260.00,1314.20 C274.78,1314.13 295.55,1314.48 303.50,1314.00 C311.45,1313.52 306.62,1312.63 307.70,1311.30 C308.78,1309.97 309.33,1307.88 310.00,1306.00 C310.67,1304.12 311.12,1302.67 311.70,1300.00 C312.28,1297.33 312.75,1293.33 313.50,1290.00 C314.25,1286.67 315.37,1281.75 316.20,1280.00 C317.03,1278.25 317.68,1279.25 318.50,1279.50 C319.32,1279.75 320.10,1281.25 321.10,1281.50 C322.10,1281.75 323.43,1281.42 324.50,1281.00 C325.57,1280.58 326.42,1280.83 327.50,1279.00 C328.58,1277.17 330.08,1274.83 331.00,1270.00 C331.92,1265.17 332.40,1259.17 333.00,1250.00 C333.60,1240.83 334.10,1227.50 334.60,1215.00 C335.10,1202.50 335.57,1189.17 336.00,1175.00 C336.43,1160.83 336.80,1145.00 337.20,1130.00 C337.60,1115.00 338.00,1098.67 338.40,1085.00 C338.80,1071.33 339.20,1058.83 339.60,1048.00 C340.00,1037.17 340.45,1026.67 340.80,1020.00 C341.15,1013.33 341.45,1010.42 341.70,1008.00 C341.95,1005.58 342.10,1005.50 342.30,1005.50 C342.50,1005.50 342.65,1005.58 342.90,1008.00 C343.15,1010.42 343.45,1013.33 343.80,1020.00 C344.15,1026.67 344.60,1037.17 345.00,1048.00 C345.40,1058.83 345.80,1071.33 346.20,1085.00 C346.60,1098.67 346.97,1115.00 347.40,1130.00 C347.83,1145.00 348.28,1160.83 348.80,1175.00 C349.32,1189.17 349.92,1203.33 350.50,1215.00 C351.08,1226.67 351.67,1234.42 352.30,1245.00 C352.93,1255.58 353.27,1269.83 354.30,1278.50 C355.33,1287.17 356.77,1292.67 358.50,1297.00 C360.23,1301.33 362.28,1302.77 364.70,1304.50 C367.12,1306.23 370.58,1307.23 373.00,1307.40 C375.42,1307.57 377.63,1306.73 379.20,1305.50 C380.77,1304.27 381.60,1303.42 382.40,1300.00 C383.20,1296.58 383.57,1290.33 384.00,1285.00 C384.43,1279.67 384.62,1273.33 385.00,1268.00 C385.38,1262.67 385.83,1257.08 386.30,1253.00 C386.77,1248.92 387.30,1245.50 387.80,1243.50 C388.30,1241.50 388.80,1241.08 389.30,1241.00 C389.80,1240.92 390.25,1241.50 390.80,1243.00 C391.35,1244.50 391.90,1247.33 392.60,1250.00 C393.30,1252.67 394.13,1256.08 395.00,1259.00 C395.87,1261.92 396.60,1264.00 397.80,1267.50 C399.00,1271.00 400.72,1275.92 402.20,1280.00 C403.68,1284.08 405.22,1288.67 406.70,1292.00 C408.18,1295.33 409.62,1298.08 411.10,1300.00 C412.58,1301.92 414.12,1303.07 415.60,1303.50 C417.08,1303.93 418.53,1302.30 420.00,1302.60 C421.47,1302.90 422.92,1304.27 424.40,1305.30 C425.88,1306.33 427.42,1308.00 428.90,1308.80 C430.38,1309.60 431.12,1309.70 433.30,1310.10 C435.48,1310.50 439.37,1311.92 442.00,1311.20 C444.63,1310.48 447.35,1308.50 449.10,1305.80 C450.85,1303.10 451.58,1297.80 452.50,1295.00 C453.42,1292.20 453.92,1290.43 454.60,1289.00 C455.28,1287.57 455.93,1286.57 456.60,1286.40 C457.27,1286.23 457.95,1286.90 458.60,1288.00 C459.25,1289.10 459.72,1290.90 460.50,1293.00 C461.28,1295.10 461.65,1298.15 463.30,1300.60 C464.95,1303.05 467.43,1305.80 470.40,1307.70 C473.37,1309.60 476.35,1310.92 481.10,1312.00 C485.85,1313.08 485.75,1313.77 498.90,1314.20 C512.05,1314.63 539.07,1314.53 560.00,1314.60 C580.93,1314.67 613.75,1314.60 624.50,1314.60" fill="none" stroke="#a64ca2" stroke-width="3.5" stroke-linejoin="round" stroke-linecap="round"/>
<rect x="201.30" y="1812.80" width="43.40" height="42.40" fill="#050505"/>
<rect x="244.40" y="1768.80" width="43.40" height="86.40" fill="#cd2629"/>
<rect x="287.50" y="1744.00" width="43.10" height="111.20" fill="#4454a6"/>
<rect x="363.40" y="1782.70" width="43.40" height="72.50" fill="#050505"/>
<rect x="406.50" y="1724.00" width="43.40" height="131.20" fill="#cd2629"/>
<rect x="449.60" y="1710.70" width="43.10" height="144.50" fill="#4454a6"/>
<rect x="524.70" y="1651.30" width="43.40" height="203.90" fill="#050505"/>
<rect x="567.80" y="1597.00" width="43.40" height="258.20" fill="#cd2629"/>
<rect x="610.90" y="1580.40" width="43.10" height="274.80" fill="#4454a6"/>
<line x1="223.05" y1="1820.00" x2="223.05" y2="1805.10" stroke="#050505" stroke-width="3.4"/>
<line x1="217.55" y1="1820.00" x2="228.55" y2="1820.00" stroke="#050505" stroke-width="3.3"/>
<line x1="217.55" y1="1805.10" x2="228.55" y2="1805.10" stroke="#050505" stroke-width="3.3"/>
<line x1="266.15" y1="1802.00" x2="266.15" y2="1736.60" stroke="#050505" stroke-width="3.4"/>
<line x1="260.65" y1="1802.00" x2="271.65" y2="1802.00" stroke="#050505" stroke-width="3.3"/>
<line x1="260.65" y1="1736.60" x2="271.65" y2="1736.60" stroke="#050505" stroke-width="3.3"/>
<line x1="309.25" y1="1798.20" x2="309.25" y2="1690.00" stroke="#050505" stroke-width="3.4"/>
<line x1="303.75" y1="1798.20" x2="314.75" y2="1798.20" stroke="#050505" stroke-width="3.3"/>
<line x1="303.75" y1="1690.00" x2="314.75" y2="1690.00" stroke="#050505" stroke-width="3.3"/>
<line x1="385.15" y1="1800.00" x2="385.15" y2="1764.60" stroke="#050505" stroke-width="3.4"/>
<line x1="379.65" y1="1800.00" x2="390.65" y2="1800.00" stroke="#050505" stroke-width="3.3"/>
<line x1="379.65" y1="1764.60" x2="390.65" y2="1764.60" stroke="#050505" stroke-width="3.3"/>
<line x1="428.25" y1="1762.60" x2="428.25" y2="1685.40" stroke="#050505" stroke-width="3.4"/>
<line x1="422.75" y1="1762.60" x2="433.75" y2="1762.60" stroke="#050505" stroke-width="3.3"/>
<line x1="422.75" y1="1685.40" x2="433.75" y2="1685.40" stroke="#050505" stroke-width="3.3"/>
<line x1="471.35" y1="1740.00" x2="471.35" y2="1681.90" stroke="#050505" stroke-width="3.4"/>
<line x1="465.85" y1="1740.00" x2="476.85" y2="1740.00" stroke="#050505" stroke-width="3.3"/>
<line x1="465.85" y1="1681.90" x2="476.85" y2="1681.90" stroke="#050505" stroke-width="3.3"/>
<line x1="546.45" y1="1675.00" x2="546.45" y2="1627.40" stroke="#050505" stroke-width="3.4"/>
<line x1="540.95" y1="1675.00" x2="551.95" y2="1675.00" stroke="#050505" stroke-width="3.3"/>
<line x1="540.95" y1="1627.40" x2="551.95" y2="1627.40" stroke="#050505" stroke-width="3.3"/>
<line x1="632.65" y1="1608.00" x2="632.65" y2="1553.60" stroke="#050505" stroke-width="3.4"/>
<line x1="627.15" y1="1608.00" x2="638.15" y2="1608.00" stroke="#050505" stroke-width="3.3"/>
<line x1="627.15" y1="1553.60" x2="638.15" y2="1553.60" stroke="#050505" stroke-width="3.3"/>
<line x1="185.5" y1="1462.3" x2="185.5" y2="1860.3" stroke="#050505" stroke-width="3.5"/>
<line x1="183.8" y1="1855.2" x2="671.5" y2="1855.2" stroke="#050505" stroke-width="3.4"/>
<line x1="175.30" y1="1855.20" x2="185.5" y2="1855.20" stroke="#050505" stroke-width="3.2"/>
<text x="162.6" y="1860.60" font-size="19.8" text-anchor="end" fill="#2a2a2a" stroke="#2a2a2a" >0.0</text>
<line x1="179.30" y1="1835.65" x2="185.5" y2="1835.65" stroke="#050505" stroke-width="3.2"/>
<line x1="175.30" y1="1816.11" x2="185.5" y2="1816.11" stroke="#050505" stroke-width="3.2"/>
<text x="162.6" y="1821.51" font-size="19.8" text-anchor="end" fill="#2a2a2a" stroke="#2a2a2a" >0.1</text>
<line x1="179.30" y1="1796.57" x2="185.5" y2="1796.57" stroke="#050505" stroke-width="3.2"/>
<line x1="175.30" y1="1777.02" x2="185.5" y2="1777.02" stroke="#050505" stroke-width="3.2"/>
<text x="162.6" y="1782.42" font-size="19.8" text-anchor="end" fill="#2a2a2a" stroke="#2a2a2a" >0.2</text>
<line x1="179.30" y1="1757.48" x2="185.5" y2="1757.48" stroke="#050505" stroke-width="3.2"/>
<line x1="175.30" y1="1737.93" x2="185.5" y2="1737.93" stroke="#050505" stroke-width="3.2"/>
<text x="162.6" y="1743.33" font-size="19.8" text-anchor="end" fill="#2a2a2a" stroke="#2a2a2a" >0.3</text>
<line x1="179.30" y1="1718.38" x2="185.5" y2="1718.38" stroke="#050505" stroke-width="3.2"/>
<line x1="175.30" y1="1698.84" x2="185.5" y2="1698.84" stroke="#050505" stroke-width="3.2"/>
<text x="162.6" y="1704.24" font-size="19.8" text-anchor="end" fill="#2a2a2a" stroke="#2a2a2a" >0.4</text>
<line x1="179.30" y1="1679.30" x2="185.5" y2="1679.30" stroke="#050505" stroke-width="3.2"/>
<line x1="175.30" y1="1659.75" x2="185.5" y2="1659.75" stroke="#050505" stroke-width="3.2"/>
<text x="162.6" y="1665.15" font-size="19.8" text-anchor="end" fill="#2a2a2a" stroke="#2a2a2a" >0.5</text>
<line x1="179.30" y1="1640.20" x2="185.5" y2="1640.20" stroke="#050505" stroke-width="3.2"/>
<line x1="175.30" y1="1620.66" x2="185.5" y2="1620.66" stroke="#050505" stroke-width="3.2"/>
<text x="162.6" y="1626.06" font-size="19.8" text-anchor="end" fill="#2a2a2a" stroke="#2a2a2a" >0.6</text>
<line x1="179.30" y1="1601.12" x2="185.5" y2="1601.12" stroke="#050505" stroke-width="3.2"/>
<line x1="175.30" y1="1581.57" x2="185.5" y2="1581.57" stroke="#050505" stroke-width="3.2"/>
<text x="162.6" y="1586.97" font-size="19.8" text-anchor="end" fill="#2a2a2a" stroke="#2a2a2a" >0.7</text>
<line x1="179.30" y1="1562.03" x2="185.5" y2="1562.03" stroke="#050505" stroke-width="3.2"/>
<line x1="175.30" y1="1542.48" x2="185.5" y2="1542.48" stroke="#050505" stroke-width="3.2"/>
<text x="162.6" y="1547.88" font-size="19.8" text-anchor="end" fill="#2a2a2a" stroke="#2a2a2a" >0.8</text>
<line x1="179.30" y1="1522.93" x2="185.5" y2="1522.93" stroke="#050505" stroke-width="3.2"/>
<line x1="175.30" y1="1503.39" x2="185.5" y2="1503.39" stroke="#050505" stroke-width="3.2"/>
<text x="162.6" y="1508.79" font-size="19.8" text-anchor="end" fill="#2a2a2a" stroke="#2a2a2a" >0.9</text>
<line x1="179.30" y1="1483.85" x2="185.5" y2="1483.85" stroke="#050505" stroke-width="3.2"/>
<line x1="175.30" y1="1464.30" x2="185.5" y2="1464.30" stroke="#050505" stroke-width="2.2"/>
<text x="162.6" y="1469.70" font-size="19.8" text-anchor="end" fill="#2a2a2a" stroke="#2a2a2a" >1.0</text>
<line x1="266.0" y1="1855.2" x2="266.0" y2="1864.90" stroke="#050505" stroke-width="3.0"/>
<line x1="427.8" y1="1855.2" x2="427.8" y2="1864.90" stroke="#050505" stroke-width="3.0"/>
<line x1="589.8" y1="1855.2" x2="589.8" y2="1864.90" stroke="#050505" stroke-width="3.0"/>
<line x1="347.0" y1="1855.2" x2="347.0" y2="1862.10" stroke="#050505" stroke-width="3.0"/>
<line x1="508.9" y1="1855.2" x2="508.9" y2="1862.10" stroke="#050505" stroke-width="3.0"/>
<line x1="670.2" y1="1855.2" x2="670.2" y2="1862.10" stroke="#050505" stroke-width="3.0"/>
<rect x="194" y="1468.70" width="33.2" height="16.0" fill="#050505"/>
<rect x="194" y="1487.00" width="33.2" height="16.0" fill="#cd2629"/>
<rect x="194" y="1505.30" width="33.2" height="16.0" fill="#4454a6"/>
<text x="237.74" y="1481.1" font-size="18.5" fill="#141414" stroke="#141414" textLength="98.98" lengthAdjust="spacingAndGlyphs">50mM NaCl</text>
<text x="230.01" y="1499.3" font-size="18.5" fill="#141414" stroke="#141414" textLength="106.97" lengthAdjust="spacingAndGlyphs">150mM NaCl</text>
<text x="230.66" y="1517.6" font-size="18.5" fill="#141414" stroke="#141414" textLength="106.32" lengthAdjust="spacingAndGlyphs">300mM NaCl</text>
<text x="200.00" y="1904.6" font-size="39" fill="#141414" stroke="#141414" textLength="135.57" lengthAdjust="spacingAndGlyphs">Vpu-DD</text>
<text x="360.70" y="1904.6" font-size="39" fill="#141414" stroke="#141414" textLength="140.60" lengthAdjust="spacingAndGlyphs">Vpu-WT</text>
<text x="523.30" y="1904.6" font-size="39" fill="#141414" stroke="#141414" textLength="136.28" lengthAdjust="spacingAndGlyphs">Vpu-NN</text>
<text transform="rotate(-90)" x="-1758.60" y="102.40" font-size="40" fill="#141414" stroke="#141414">A</text>
<text transform="rotate(-90)" x="-1724.50" y="112.70" font-size="22" fill="#141414" stroke="#141414">P1</text>
<text transform="rotate(-90)" x="-1699.20" y="102.40" font-size="40" fill="#141414" stroke="#141414">/</text>
<text transform="rotate(-90)" x="-1687.50" y="102.40" font-size="40" fill="#141414" stroke="#141414">A</text>
<text transform="rotate(-90)" x="-1655.50" y="112.70" font-size="22" fill="#141414" stroke="#141414">(P1+P2)</text>
</svg>
</body></html>
